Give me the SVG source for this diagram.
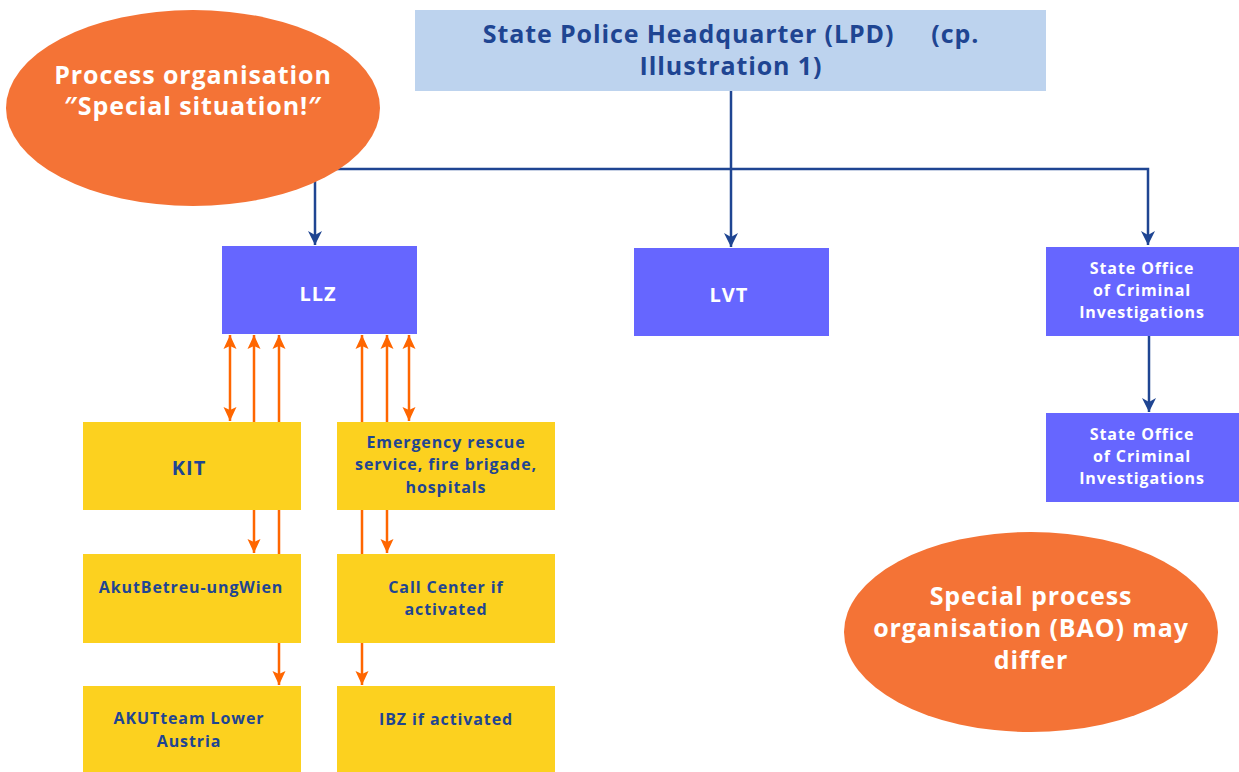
<svg xmlns="http://www.w3.org/2000/svg" width="1239" height="772" viewBox="0 0 1239 772">
<defs>
<marker id="ab" viewBox="0 0 14 16" refX="14" refY="8" markerWidth="14" markerHeight="16" markerUnits="userSpaceOnUse" orient="auto-start-reverse"><path d="M0,1 L14,8 L0,15 L4,8 Z" fill="#1f4592"/></marker>
<marker id="ao" viewBox="0 0 14 14" refX="14" refY="7" markerWidth="14" markerHeight="14" markerUnits="userSpaceOnUse" orient="auto-start-reverse"><path d="M0,0.5 L14,7 L0,13.5 L3,7 Z" fill="#ff6600"/></marker>
<style>
.t{font-family:"Open Sans","Liberation Sans",sans-serif;font-weight:700;text-anchor:middle}
.s{font-size:16px;letter-spacing:0.9px}
.m{font-size:20px;letter-spacing:1px}
.l{font-size:25px;letter-spacing:0.9px}
.blue{fill:#6666ff}
.yel{fill:#fcd11f}
.dk{fill:#1f4592}
.wh{fill:#ffffff}
.bl{stroke:#1f4592;stroke-width:2.5;fill:none}
.or{stroke:#ff6600;stroke-width:2.5;fill:none}
.ell{fill:#f47336}
</style>
</defs>
<g id="connectors">
<polyline class="bl" points="315,169 1148,169 1148,245" marker-end="url(#ab)"/>
<line class="bl" x1="315" y1="169" x2="315" y2="245" marker-end="url(#ab)"/>
<line class="bl" x1="731" y1="91" x2="731" y2="247" marker-end="url(#ab)"/>
<line class="bl" x1="1149" y1="336" x2="1149" y2="412" marker-end="url(#ab)"/>
<line class="or" x1="230" y1="335" x2="230" y2="421" marker-start="url(#ao)" marker-end="url(#ao)"/>
<line class="or" x1="254" y1="335" x2="254" y2="553" marker-start="url(#ao)" marker-end="url(#ao)"/>
<line class="or" x1="279" y1="335" x2="279" y2="685" marker-start="url(#ao)" marker-end="url(#ao)"/>
<line class="or" x1="362" y1="335" x2="362" y2="685" marker-start="url(#ao)" marker-end="url(#ao)"/>
<line class="or" x1="387" y1="335" x2="387" y2="553" marker-start="url(#ao)" marker-end="url(#ao)"/>
<line class="or" x1="409" y1="335" x2="409" y2="421" marker-start="url(#ao)" marker-end="url(#ao)"/>
</g>
<g id="process-org">
<ellipse class="ell" cx="193" cy="108" rx="187" ry="98"/>
<text class="t wh l" x="193" y="84">Process organisation</text>
<text class="t wh l" x="193" y="115">″Special situation!″</text>
</g>
<g id="lpd">
<rect x="415" y="10" width="631" height="81" fill="#bdd3ee"/>
<text class="t dk l" x="731" y="43" xml:space="preserve">State Police Headquarter (LPD)     (cp.</text>
<text class="t dk l" x="731" y="75">Illustration 1)</text>
</g>
<g id="llz">
<rect class="blue" x="222" y="246" width="195" height="88"/>
<text class="t wh m" x="318" y="301">LLZ</text>
</g>
<g id="lvt">
<rect class="blue" x="634" y="248" width="195" height="88"/>
<text class="t wh m" x="729" y="302">LVT</text>
</g>
<g id="lka1">
<rect class="blue" x="1046" y="247" width="193" height="89"/>
<text class="t wh s" x="1142" y="274">State Office</text>
<text class="t wh s" x="1142" y="296">of Criminal</text>
<text class="t wh s" x="1142" y="318">Investigations</text>
</g>
<g id="lka2">
<rect class="blue" x="1046" y="413" width="193" height="89"/>
<text class="t wh s" x="1142" y="440">State Office</text>
<text class="t wh s" x="1142" y="462">of Criminal</text>
<text class="t wh s" x="1142" y="484">Investigations</text>
</g>
<g id="kit">
<rect class="yel" x="83" y="422" width="218" height="88"/>
<text class="t dk m" x="189" y="475">KIT</text>
</g>
<g id="emergency">
<rect class="yel" x="337" y="422" width="218" height="88"/>
<text class="t dk s" x="446" y="448">Emergency rescue</text>
<text class="t dk s" x="446" y="470">service, fire brigade,</text>
<text class="t dk s" x="446" y="493">hospitals</text>
</g>
<g id="akutwien">
<rect class="yel" x="83" y="554" width="218" height="89"/>
<text class="t dk s" x="191" y="593">AkutBetreu-ungWien</text>
</g>
<g id="callcenter">
<rect class="yel" x="337" y="554" width="218" height="89"/>
<text class="t dk s" x="446" y="593">Call Center if</text>
<text class="t dk s" x="446" y="615">activated</text>
</g>
<g id="akutteam">
<rect class="yel" x="83" y="686" width="218" height="86"/>
<text class="t dk s" x="189" y="724">AKUTteam Lower</text>
<text class="t dk s" x="189" y="747">Austria</text>
</g>
<g id="ibz">
<rect class="yel" x="337" y="686" width="218" height="86"/>
<text class="t dk s" x="446" y="725">IBZ if activated</text>
</g>
<g id="bao">
<ellipse class="ell" cx="1031" cy="632" rx="187" ry="100"/>
<text class="t wh l" x="1031" y="605">Special process</text>
<text class="t wh l" x="1031" y="637">organisation (BAO) may</text>
<text class="t wh l" x="1031" y="669">differ</text>
</g>
</svg>
